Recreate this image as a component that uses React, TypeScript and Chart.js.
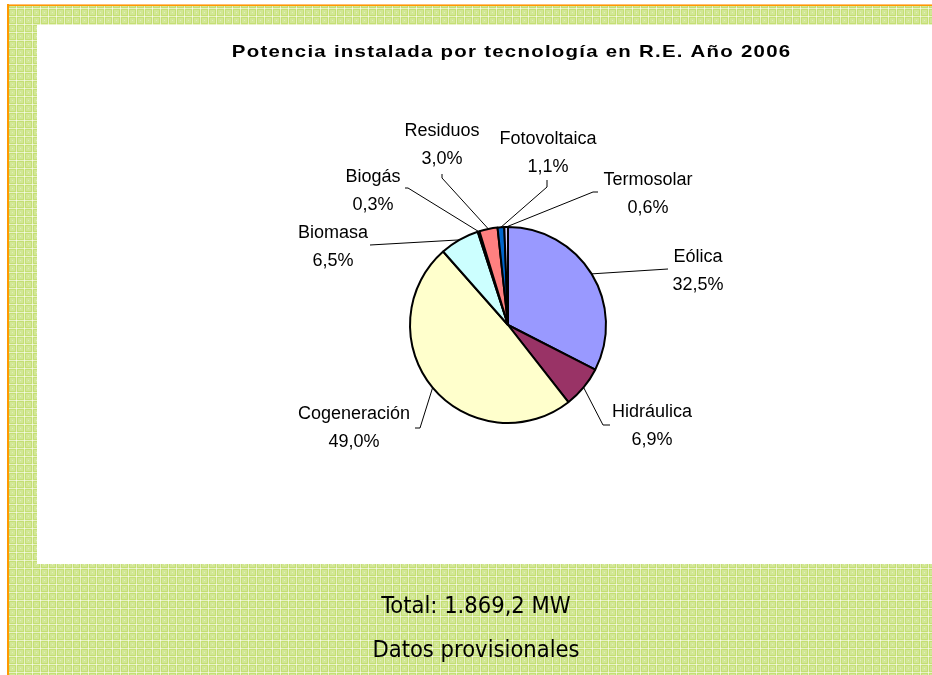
import { useEffect, useRef } from "react";
import { Chart, registerables } from "chart.js";

Chart.register(...registerables);

// ---- data ----
const categories = ["Eólica", "Hidráulica", "Cogeneración", "Biomasa", "Biogás", "Residuos", "Fotovoltaica", "Termosolar"];
const shares = [32.5, 6.9, 49.0, 6.5, 0.3, 3.0, 1.1, 0.6];
const sliceColors = ["#9999FF", "#993366", "#FFFFCC", "#CCFFFF", "#660066", "#FF8080", "#0066CC", "#CCCCFF"];
const titleText = "Potencia instalada por tecnología en R.E. Año 2006";
const footerLines = ["Total: 1.869,2 MW", "Datos provisionales"];

// ---- layout (offsets from pie centre, px) ----
const labelAnchors: number[][] = [
  [190, -63], [144, 92], [-154, 94], [-175, -87], [-135, -143], [-66, -189], [40, -181], [140, -140],
];
const leaderElbows: number[][][] = [
  [[160, -56]],
  [[95, 100], [102, 100]],
  [[-88, 103], [-93, 103]],
  [[-138, -80]],
  [[-100, -137], [-103, -137]],
  [[-66, -147], [-66, -151]],
  [[39, -138], [39, -145]],
  [[85, -133], [90, -133]],
];

function makePattern(ctx: CanvasRenderingContext2D) {
  const c = document.createElement("canvas");
  c.width = 8;
  c.height = 8;
  const g = c.getContext("2d")!;
  g.fillStyle = "#c5df74";
  g.fillRect(0, 0, 8, 8);
  g.fillStyle = "#d2e796";
  g.fillRect(2, 2, 5, 5);
  g.fillStyle = "#e3efbe";
  g.fillRect(4, 4, 1, 1);
  g.fillStyle = "rgba(255,255,255,0.6)";
  g.fillRect(0, 0, 8, 1);
  g.fillRect(0, 0, 1, 8);
  return ctx.createPattern(c, "repeat")!;
}

const decorPlugin = {
  id: "decor",
  beforeDraw(chart: any) {
    const ctx: CanvasRenderingContext2D = chart.ctx;
    const W = chart.width;
    const H = chart.height;
    ctx.save();
    ctx.fillStyle = "#ffffff";
    ctx.fillRect(0, 0, W, H);
    ctx.fillStyle = makePattern(ctx);
    ctx.fillRect(9, 6, W - 9, H - 6);
    ctx.fillStyle = "#ffffff";
    ctx.fillRect(37, 25, W - 37, 564 - 25);
    ctx.fillStyle = "#FFC070";
    ctx.fillRect(7, 4, W - 7, 1);
    ctx.fillStyle = "#FF9900";
    ctx.fillRect(7, 5, W - 7, 1);
    ctx.fillRect(7, 4, 2, H - 4);
    ctx.restore();
  },
  afterDatasetsDraw(chart: any) {
    const ctx: CanvasRenderingContext2D = chart.ctx;
    const meta = chart.getDatasetMeta(0);
    ctx.save();
    meta.data.forEach((arc: any, i: number) => {
      const p = arc.getProps(["x", "y", "startAngle", "endAngle", "outerRadius"], true);
      const mid = (p.startAngle + p.endAngle) / 2;
      const sx = p.x + Math.cos(mid) * p.outerRadius;
      const sy = p.y + Math.sin(mid) * p.outerRadius;
      ctx.beginPath();
      ctx.strokeStyle = "#000000";
      ctx.lineWidth = 1;
      ctx.moveTo(sx, sy);
      leaderElbows[i].forEach(([dx, dy]) => ctx.lineTo(p.x + dx, p.y + dy));
      ctx.stroke();

      const [ax, ay] = labelAnchors[i];
      ctx.fillStyle = "#000000";
      ctx.font = "18px 'Liberation Sans', Arial, sans-serif";
      ctx.textAlign = "center";
      ctx.textBaseline = "alphabetic";
      ctx.fillText(categories[i], p.x + ax, p.y + ay);
      ctx.fillText(shares[i].toFixed(1).replace(".", ",") + "%", p.x + ax, p.y + ay + 28);
    });

    // title (horizontally stretched, lightly spaced)
    ctx.font = "bold 17px 'Liberation Sans', Arial, sans-serif";
    const ls = 1.05;
    const sx = 1.2;
    (ctx as any).letterSpacing = ls + "px";
    ctx.textAlign = "left";
    const tw = ctx.measureText(titleText).width - ls;
    ctx.save();
    ctx.translate(511 - (tw * sx) / 2, 57);
    ctx.scale(sx, 1);
    ctx.fillText(titleText, 0, 0);
    ctx.restore();
    (ctx as any).letterSpacing = "0px";

    // footer
    ctx.textAlign = "center";
    ctx.font = "23.5px 'DejaVu Sans Condensed', 'DejaVu Sans', sans-serif";
    ctx.fillText(footerLines[0], 476, 613);
    ctx.fillText(footerLines[1], 476, 657);
    ctx.restore();
  },
};

export default function App() {
  const ref = useRef<HTMLCanvasElement>(null);
  useEffect(() => {
    const chart = new Chart(ref.current!, {
      type: "pie",
      data: {
        labels: categories,
        datasets: [
          {
            data: shares,
            backgroundColor: sliceColors,
            borderColor: "#000000",
            borderWidth: 2,
          },
        ],
      },
      options: {
        responsive: false,
        animation: false,
        devicePixelRatio: 1,
        radius: 98,
        layout: { padding: { left: 184, right: 100, top: 100, bottom: 125 } },
        plugins: {
          legend: { display: false },
          tooltip: { enabled: false },
          title: { display: false },
        },
      } as any,
      plugins: [decorPlugin],
    });
    return () => chart.destroy();
  }, []);
  return (
    <div style={{ position: "fixed", left: 0, top: 0, width: 932, height: 675 }}>
      <canvas ref={ref} width={932} height={675} style={{ display: "block" }} />
    </div>
  );
}
